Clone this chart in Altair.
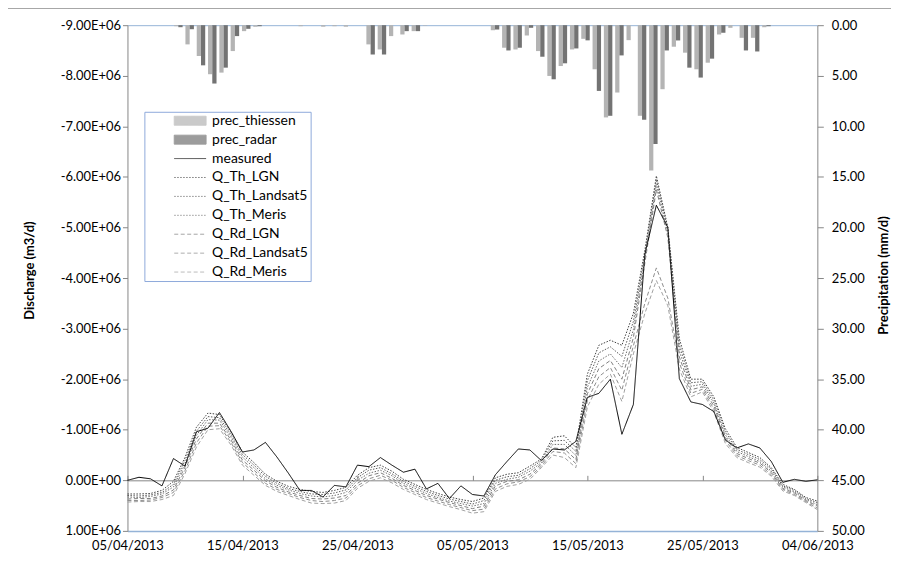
import altair as alt
import pandas as pd

# ---------------- data ----------------
dates = pd.date_range("2013-04-05", periods=61, freq="D").strftime("%Y-%m-%d").tolist()
tick_dates = [(2013, 4, 5), (2013, 4, 15), (2013, 4, 25), (2013, 5, 5),
              (2013, 5, 15), (2013, 5, 25), (2013, 6, 4)]

# precipitation (mm/d)
prec_thiessen = [0, 0, 0, 0, 0.1, 1.9, 3.05, 4.85, 4.69, 2.56,
                 0.59, 0.16, 0, 0, 0, 0.1, 0, 0.15, 0.1, 0.15,
                 0, 1.9, 2.4, 1.08, 0.92, 0.59, 0.05, 0, 0, 0,
                 0, 0, 0.5, 2.23, 2.4, 1.02, 2.56, 5.02, 4.04, 2.4,
                 1.35, 4.36, 9.12, 6.66, 1.48, 8.96, 14.37, 6.33, 2.13, 2.72,
                 4.36, 3.71, 0.92, 0.26, 1.25, 1.25, 0.2, 0, 0, 0,
                 0]
prec_radar = [0, 0, 0, 0, 0.2, 0.4, 3.97, 5.77, 4.2, 1.08,
              0.36, 0.1, 0, 0, 0, 0, 0, 0, 0, 0,
              0, 2.9, 2.9, 0, 0.59, 0.59, 0, 0, 0, 0,
              0, 0, 0.43, 2.5, 2.23, 0.26, 3.12, 5.35, 3.77, 2.3,
              1.5, 6.5, 8.96, 2.99, 0, 9.35, 11.75, 2.5, 1.51, 4.2,
              5.18, 3.31, 0.75, 0, 2.5, 2.6, 0.1, 0, 0, 0,
              0]

# discharge, in millions of m3/d
measured = [0.00, -0.06, -0.03, 0.11, -0.43, -0.28, -0.96, -1.03, -1.34, -0.97,
            -0.56, -0.60, -0.75, -0.46, -0.14, 0.20, 0.20, 0.33, 0.10, 0.13,
            -0.30, -0.27, -0.45, -0.30, -0.16, -0.22, 0.17, 0.06, 0.36, 0.11,
            0.28, 0.31, -0.11, -0.37, -0.62, -0.60, -0.39, -0.62, -0.60, -0.77,
            -1.64, -1.72, -2.00, -0.91, -1.50, -4.47, -5.44, -5.00, -2.01, -1.55,
            -1.50, -1.36, -0.80, -0.64, -0.72, -0.64, -0.37, 0.04, -0.02, 0.02,
            -0.01]
q_th_lgn = [0.27, 0.27, 0.26, 0.20, 0.02, -0.45, -1.05, -1.33, -1.30, -0.95,
            -0.56, -0.35, -0.12, 0.02, 0.12, 0.18, 0.22, 0.24, 0.20, 0.14,
            -0.10, -0.25, -0.30, -0.18, -0.02, 0.08, 0.18, 0.26, 0.33, 0.38,
            0.42, 0.35, -0.05, -0.12, -0.15, -0.28, -0.42, -0.85, -0.88, -0.65,
            -2.10, -2.67, -2.77, -2.67, -3.30, -4.55, -6.02, -5.00, -2.80, -2.00,
            -2.00, -1.65, -1.02, -0.65, -0.55, -0.45, -0.25, 0.08, 0.18, 0.34,
            0.41]
q_th_landsat5 = [0.30, 0.31, 0.29, 0.24, 0.08, -0.39, -0.97, -1.26, -1.24, -0.90,
                 -0.51, -0.30, -0.08, 0.06, 0.16, 0.22, 0.27, 0.28, 0.25, 0.19,
                 -0.05, -0.20, -0.25, -0.13, 0.02, 0.12, 0.22, 0.30, 0.37, 0.42,
                 0.47, 0.40, 0.00, -0.07, -0.10, -0.23, -0.39, -0.78, -0.79, -0.57,
                 -1.97, -2.52, -2.64, -2.45, -3.14, -4.48, -5.95, -4.95, -2.68, -1.93,
                 -1.95, -1.59, -0.96, -0.61, -0.51, -0.41, -0.22, 0.11, 0.20, 0.36,
                 0.44]
q_th_meris = [0.33, 0.34, 0.32, 0.27, 0.13, -0.32, -0.89, -1.20, -1.19, -0.85,
              -0.46, -0.25, -0.03, 0.10, 0.19, 0.26, 0.31, 0.33, 0.30, 0.24,
              0.00, -0.14, -0.20, -0.09, 0.06, 0.16, 0.26, 0.34, 0.41, 0.46,
              0.51, 0.46, 0.06, -0.02, -0.06, -0.18, -0.35, -0.71, -0.71, -0.49,
              -1.84, -2.36, -2.50, -2.23, -2.98, -4.40, -5.85, -4.88, -2.56, -1.86,
              -1.90, -1.53, -0.90, -0.57, -0.47, -0.37, -0.18, 0.13, 0.23, 0.38,
              0.48]
q_rd_lgn = [0.37, 0.36, 0.36, 0.31, 0.19, -0.26, -0.82, -1.13, -1.13, -0.80,
            -0.40, -0.20, 0.01, 0.14, 0.23, 0.30, 0.36, 0.37, 0.35, 0.30,
            0.06, -0.09, -0.15, -0.04, 0.10, 0.20, 0.30, 0.37, 0.44, 0.50,
            0.56, 0.51, 0.11, 0.02, -0.01, -0.12, -0.32, -0.64, -0.62, -0.41,
            -1.71, -2.21, -2.37, -2.00, -2.82, -4.30, -5.75, -4.80, -2.44, -1.79,
            -1.85, -1.47, -0.85, -0.53, -0.43, -0.34, -0.15, 0.16, 0.25, 0.40,
            0.51]
q_rd_landsat5 = [0.40, 0.40, 0.39, 0.34, 0.24, -0.19, -0.74, -1.07, -1.08, -0.75,
                 -0.35, -0.15, 0.06, 0.18, 0.26, 0.34, 0.40, 0.42, 0.40, 0.35,
                 0.11, -0.03, -0.10, 0.00, 0.14, 0.24, 0.34, 0.41, 0.48, 0.54,
                 0.60, 0.57, 0.17, 0.07, 0.03, -0.07, -0.28, -0.57, -0.54, -0.33,
                 -1.58, -2.05, -2.23, -1.78, -2.66, -3.50, -4.20, -3.60, -2.32, -1.72,
                 -1.80, -1.41, -0.79, -0.49, -0.39, -0.30, -0.11, 0.18, 0.28, 0.42,
                 0.55]
q_rd_meris = [0.43, 0.42, 0.42, 0.38, 0.30, -0.13, -0.66, -1.00, -1.02, -0.70,
              -0.30, -0.10, 0.10, 0.22, 0.30, 0.38, 0.45, 0.46, 0.45, 0.40,
              0.16, 0.02, -0.05, 0.05, 0.18, 0.28, 0.38, 0.45, 0.52, 0.58,
              0.65, 0.62, 0.22, 0.12, 0.08, -0.02, -0.25, -0.50, -0.45, -0.25,
              -1.45, -1.90, -2.10, -1.56, -2.50, -3.30, -3.95, -3.45, -2.20, -1.65,
              -1.75, -1.35, -0.73, -0.45, -0.35, -0.26, -0.08, 0.21, 0.30, 0.44,
              0.58]

series_all = ["prec_thiessen", "prec_radar", "measured", "Q_Th_LGN", "Q_Th_Landsat5",
              "Q_Th_Meris", "Q_Rd_LGN", "Q_Rd_Landsat5", "Q_Rd_Meris"]
series_colors = ["#B4B4B4", "#737373", "#000000", "#404040", "#595959",
                 "#6E6E6E", "#7F7F7F", "#8C8C8C", "#A0A0A0"]
series_dash = [[1, 0], [1, 0], [1, 0], [1.5, 1.5], [1.5, 1.5], [1.5, 1.5],
               [4, 2.5], [4, 2.5], [4, 2.5]]
RECT = "M-3.2,-0.9H3.2V0.9H-3.2Z"
LINE = "M-3.2,0H3.2"
series_shapes = [RECT, RECT, LINE, LINE, LINE, LINE, LINE, LINE, LINE]

# ---------------- tables ----------------
bar_rows = []
for name, vals in [("prec_thiessen", prec_thiessen), ("prec_radar", prec_radar)]:
    for d, v in zip(dates, vals):
        bar_rows.append({"date": d, "series": name, "value": v})
bar_df = pd.DataFrame(bar_rows)

line_rows = []
for name, vals in [("Q_Th_LGN", q_th_lgn), ("Q_Th_Landsat5", q_th_landsat5),
                   ("Q_Th_Meris", q_th_meris), ("Q_Rd_LGN", q_rd_lgn),
                   ("Q_Rd_Landsat5", q_rd_landsat5), ("Q_Rd_Meris", q_rd_meris),
                   ("measured", measured)]:
    for d, v in zip(dates, vals):
        line_rows.append({"date": d, "series": name, "q": v * 1e6})
line_df = pd.DataFrame(line_rows)

# ---------------- layout ----------------
W, H = 693, 508
FONT = "Lato"
GRAY = "#868686"
BLUE = "#95B3D7"

def dt(t):
    return alt.DateTime(year=t[0], month=t[1], date=t[2], utc=True)

def x_time_scale():
    return alt.Scale(type="utc", domain=[dt(tick_dates[0]), dt(tick_dates[-1])])

def y_q_scale():
    return alt.Scale(domain=[-9e6, 1e6], reverse=True, nice=False, zero=False)

fill_scale = alt.Scale(domain=series_all, range=series_colors)
stroke_scale = alt.Scale(domain=series_all, range=series_colors)
dash_scale = alt.Scale(domain=series_all, range=series_dash)
shape_scale = alt.Scale(domain=series_all, range=series_shapes)

leg = alt.Legend(orient="none", legendX=17, legendY=87, direction="vertical", title=None,
                 strokeColor="#8EA9DB", fillColor="white", padding=2,
                 symbolSize=100, symbolStrokeWidth=1, symbolOffset=37, labelOffset=15,
                 labelFont=FONT, labelFontSize=14, labelColor="black", rowPadding=5,
                 labelLimit=400, labelExpr="datum.label + '       '",
                 symbolFillColor="white", symbolStrokeColor="black")

bars = alt.Chart(bar_df).mark_bar().encode(
    x=alt.X("date:O", sort=dates,
            scale=alt.Scale(domain=dates, paddingInner=0.25, paddingOuter=0.125),
            axis=alt.Axis(orient="top", labels=False, ticks=False, title=None,
                          domainColor=BLUE, domainWidth=1, grid=False)),
    xOffset=alt.XOffset("series:N", scale=alt.Scale(domain=["prec_thiessen", "prec_radar"])),
    y=alt.Y("value:Q", scale=alt.Scale(domain=[0, 50], reverse=True, nice=False),
            axis=alt.Axis(orient="right", values=list(range(0, 55, 5)), format=".2f",
                          title="Precipitation (mm/d)", titleFont=FONT, titleFontSize=13,
                          titleFontWeight="bold", titleAngle=270, titleX=66, titleY=251,
                          titleAlign="center", titleBaseline="middle",
                          domainColor=GRAY, tickColor=GRAY, tickSize=6, labelPadding=8,
                          labelFont=FONT, labelFontSize=13, grid=False)),
    fill=alt.Fill("series:N", scale=fill_scale, legend=leg),
)

lines = alt.Chart(line_df).mark_line(strokeWidth=1).encode(
    x=alt.X("date:T", scale=x_time_scale(),
            axis=alt.Axis(orient="bottom", values=[dt(t) for t in tick_dates],
                          format="%d/%m/%Y", title=None, ticks=False, tickSize=0,
                          labelPadding=9, labelFlush=False, labelOverlap=False,
                          domainColor=BLUE, domainWidth=1.5,
                          labelFont=FONT, labelFontSize=13, grid=False)),
    y=alt.Y("q:Q", scale=y_q_scale(),
            axis=alt.Axis(orient="left", values=[v * 1e6 for v in range(-9, 2)],
                          labelExpr="(datum.value < 0 ? '-' : '') + format(abs(datum.value) / 1e6, '.2f') + (datum.value == 0 ? 'E+00' : 'E+06')",
                          title="Discharge (m3/d)", titleFont=FONT, titleFontSize=13,
                          titleFontWeight="bold", titleAngle=270, titleX=-98, titleY=246,
                          titleAlign="center", titleBaseline="middle",
                          domainColor=GRAY, tickColor=GRAY, tickSize=5, labelPadding=2,
                          labelFlush=False, labelOverlap=False,
                          labelFont=FONT, labelFontSize=13, grid=False)),
    stroke=alt.Stroke("series:N", scale=stroke_scale, legend=leg),
    strokeDash=alt.StrokeDash("series:N", scale=dash_scale, legend=leg),
)

# legend carrier (no visible points) + zero line axis with small upward ticks
legend_pts = alt.Chart(line_df).mark_point(filled=True).encode(
    x=alt.X("date:T", scale=x_time_scale(),
            axis=alt.Axis(orient="top", offset=-457.2, values=[dt(t) for t in tick_dates],
                          labels=False, title=None, ticks=True, tickSize=5,
                          tickColor=GRAY, domainColor=GRAY, grid=False)),
    y=alt.Y("q:Q", scale=y_q_scale(), axis=None),
    fill=alt.Fill("series:N", scale=fill_scale, legend=leg),
    stroke=alt.Stroke("series:N", scale=stroke_scale, legend=leg),
    shape=alt.Shape("series:N", scale=shape_scale, legend=leg),
    strokeDash=alt.StrokeDash("series:N", scale=dash_scale, legend=leg),
).transform_filter("false")

frame = alt.Chart(bar_df).mark_rule(color="#A6A6A6", strokeWidth=1).encode(
    x=alt.value(-120), x2=alt.value(W + 74), y=alt.value(-17)
)

chart = alt.layer(bars, lines, legend_pts, frame).resolve_scale(
    x="independent", y="independent"
).properties(
    width=W, height=H,
    autosize=alt.AutoSizeParams(type="none"),
    padding={"left": 120, "top": 16, "right": 74, "bottom": 30},
).configure_view(stroke=None).configure_axis(
    labelColor="black", titleColor="black"
)

chart.save("out.html", embed_options={"renderer": "svg", "actions": False})
